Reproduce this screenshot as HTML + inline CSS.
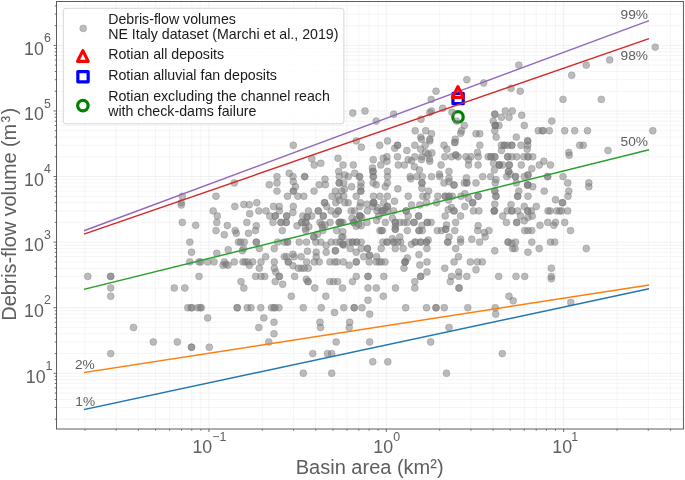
<!DOCTYPE html>
<html><head><meta charset="utf-8"><title>Debris-flow volume vs basin area</title>
<style>html,body{margin:0;padding:0;background:#fff}svg{display:block}text{font-family:"Liberation Sans", Arial, sans-serif}</style></head><body>
<svg width="685" height="480" viewBox="0 0 685 480">
<rect width="685" height="480" fill="#fff"/>
<g stroke-width="0.75"><line x1="84.99" y1="1.50" x2="84.99" y2="429.00" stroke="#f2f2f2"/><line x1="116.22" y1="1.50" x2="116.22" y2="429.00" stroke="#f2f2f2"/><line x1="138.38" y1="1.50" x2="138.38" y2="429.00" stroke="#f2f2f2"/><line x1="155.56" y1="1.50" x2="155.56" y2="429.00" stroke="#f2f2f2"/><line x1="169.61" y1="1.50" x2="169.61" y2="429.00" stroke="#f2f2f2"/><line x1="181.48" y1="1.50" x2="181.48" y2="429.00" stroke="#f2f2f2"/><line x1="191.76" y1="1.50" x2="191.76" y2="429.00" stroke="#f2f2f2"/><line x1="200.83" y1="1.50" x2="200.83" y2="429.00" stroke="#f2f2f2"/><line x1="208.95" y1="1.50" x2="208.95" y2="429.00" stroke="#ebebeb"/><line x1="262.34" y1="1.50" x2="262.34" y2="429.00" stroke="#f2f2f2"/><line x1="293.57" y1="1.50" x2="293.57" y2="429.00" stroke="#f2f2f2"/><line x1="315.73" y1="1.50" x2="315.73" y2="429.00" stroke="#f2f2f2"/><line x1="332.91" y1="1.50" x2="332.91" y2="429.00" stroke="#f2f2f2"/><line x1="346.96" y1="1.50" x2="346.96" y2="429.00" stroke="#f2f2f2"/><line x1="358.83" y1="1.50" x2="358.83" y2="429.00" stroke="#f2f2f2"/><line x1="369.11" y1="1.50" x2="369.11" y2="429.00" stroke="#f2f2f2"/><line x1="378.18" y1="1.50" x2="378.18" y2="429.00" stroke="#f2f2f2"/><line x1="386.30" y1="1.50" x2="386.30" y2="429.00" stroke="#ebebeb"/><line x1="439.69" y1="1.50" x2="439.69" y2="429.00" stroke="#f2f2f2"/><line x1="470.92" y1="1.50" x2="470.92" y2="429.00" stroke="#f2f2f2"/><line x1="493.08" y1="1.50" x2="493.08" y2="429.00" stroke="#f2f2f2"/><line x1="510.26" y1="1.50" x2="510.26" y2="429.00" stroke="#f2f2f2"/><line x1="524.31" y1="1.50" x2="524.31" y2="429.00" stroke="#f2f2f2"/><line x1="536.18" y1="1.50" x2="536.18" y2="429.00" stroke="#f2f2f2"/><line x1="546.46" y1="1.50" x2="546.46" y2="429.00" stroke="#f2f2f2"/><line x1="555.53" y1="1.50" x2="555.53" y2="429.00" stroke="#f2f2f2"/><line x1="563.65" y1="1.50" x2="563.65" y2="429.00" stroke="#ebebeb"/><line x1="617.04" y1="1.50" x2="617.04" y2="429.00" stroke="#f2f2f2"/><line x1="648.27" y1="1.50" x2="648.27" y2="429.00" stroke="#f2f2f2"/><line x1="670.43" y1="1.50" x2="670.43" y2="429.00" stroke="#f2f2f2"/><line x1="56.50" y1="419.14" x2="683.45" y2="419.14" stroke="#f2f2f2"/><line x1="56.50" y1="407.59" x2="683.45" y2="407.59" stroke="#f2f2f2"/><line x1="56.50" y1="399.40" x2="683.45" y2="399.40" stroke="#f2f2f2"/><line x1="56.50" y1="393.04" x2="683.45" y2="393.04" stroke="#f2f2f2"/><line x1="56.50" y1="387.85" x2="683.45" y2="387.85" stroke="#f2f2f2"/><line x1="56.50" y1="383.46" x2="683.45" y2="383.46" stroke="#f2f2f2"/><line x1="56.50" y1="379.66" x2="683.45" y2="379.66" stroke="#f2f2f2"/><line x1="56.50" y1="376.30" x2="683.45" y2="376.30" stroke="#f2f2f2"/><line x1="56.50" y1="373.30" x2="683.45" y2="373.30" stroke="#ebebeb"/><line x1="56.50" y1="353.56" x2="683.45" y2="353.56" stroke="#f2f2f2"/><line x1="56.50" y1="342.01" x2="683.45" y2="342.01" stroke="#f2f2f2"/><line x1="56.50" y1="333.82" x2="683.45" y2="333.82" stroke="#f2f2f2"/><line x1="56.50" y1="327.46" x2="683.45" y2="327.46" stroke="#f2f2f2"/><line x1="56.50" y1="322.27" x2="683.45" y2="322.27" stroke="#f2f2f2"/><line x1="56.50" y1="317.88" x2="683.45" y2="317.88" stroke="#f2f2f2"/><line x1="56.50" y1="314.08" x2="683.45" y2="314.08" stroke="#f2f2f2"/><line x1="56.50" y1="310.72" x2="683.45" y2="310.72" stroke="#f2f2f2"/><line x1="56.50" y1="307.72" x2="683.45" y2="307.72" stroke="#ebebeb"/><line x1="56.50" y1="287.98" x2="683.45" y2="287.98" stroke="#f2f2f2"/><line x1="56.50" y1="276.43" x2="683.45" y2="276.43" stroke="#f2f2f2"/><line x1="56.50" y1="268.24" x2="683.45" y2="268.24" stroke="#f2f2f2"/><line x1="56.50" y1="261.88" x2="683.45" y2="261.88" stroke="#f2f2f2"/><line x1="56.50" y1="256.69" x2="683.45" y2="256.69" stroke="#f2f2f2"/><line x1="56.50" y1="252.30" x2="683.45" y2="252.30" stroke="#f2f2f2"/><line x1="56.50" y1="248.50" x2="683.45" y2="248.50" stroke="#f2f2f2"/><line x1="56.50" y1="245.14" x2="683.45" y2="245.14" stroke="#f2f2f2"/><line x1="56.50" y1="242.14" x2="683.45" y2="242.14" stroke="#ebebeb"/><line x1="56.50" y1="222.40" x2="683.45" y2="222.40" stroke="#f2f2f2"/><line x1="56.50" y1="210.85" x2="683.45" y2="210.85" stroke="#f2f2f2"/><line x1="56.50" y1="202.66" x2="683.45" y2="202.66" stroke="#f2f2f2"/><line x1="56.50" y1="196.30" x2="683.45" y2="196.30" stroke="#f2f2f2"/><line x1="56.50" y1="191.11" x2="683.45" y2="191.11" stroke="#f2f2f2"/><line x1="56.50" y1="186.72" x2="683.45" y2="186.72" stroke="#f2f2f2"/><line x1="56.50" y1="182.92" x2="683.45" y2="182.92" stroke="#f2f2f2"/><line x1="56.50" y1="179.56" x2="683.45" y2="179.56" stroke="#f2f2f2"/><line x1="56.50" y1="176.56" x2="683.45" y2="176.56" stroke="#ebebeb"/><line x1="56.50" y1="156.82" x2="683.45" y2="156.82" stroke="#f2f2f2"/><line x1="56.50" y1="145.27" x2="683.45" y2="145.27" stroke="#f2f2f2"/><line x1="56.50" y1="137.08" x2="683.45" y2="137.08" stroke="#f2f2f2"/><line x1="56.50" y1="130.72" x2="683.45" y2="130.72" stroke="#f2f2f2"/><line x1="56.50" y1="125.53" x2="683.45" y2="125.53" stroke="#f2f2f2"/><line x1="56.50" y1="121.14" x2="683.45" y2="121.14" stroke="#f2f2f2"/><line x1="56.50" y1="117.34" x2="683.45" y2="117.34" stroke="#f2f2f2"/><line x1="56.50" y1="113.98" x2="683.45" y2="113.98" stroke="#f2f2f2"/><line x1="56.50" y1="110.98" x2="683.45" y2="110.98" stroke="#ebebeb"/><line x1="56.50" y1="91.24" x2="683.45" y2="91.24" stroke="#f2f2f2"/><line x1="56.50" y1="79.69" x2="683.45" y2="79.69" stroke="#f2f2f2"/><line x1="56.50" y1="71.50" x2="683.45" y2="71.50" stroke="#f2f2f2"/><line x1="56.50" y1="65.14" x2="683.45" y2="65.14" stroke="#f2f2f2"/><line x1="56.50" y1="59.95" x2="683.45" y2="59.95" stroke="#f2f2f2"/><line x1="56.50" y1="55.56" x2="683.45" y2="55.56" stroke="#f2f2f2"/><line x1="56.50" y1="51.76" x2="683.45" y2="51.76" stroke="#f2f2f2"/><line x1="56.50" y1="48.40" x2="683.45" y2="48.40" stroke="#f2f2f2"/><line x1="56.50" y1="45.40" x2="683.45" y2="45.40" stroke="#ebebeb"/><line x1="56.50" y1="25.66" x2="683.45" y2="25.66" stroke="#f2f2f2"/><line x1="56.50" y1="14.11" x2="683.45" y2="14.11" stroke="#f2f2f2"/><line x1="56.50" y1="5.92" x2="683.45" y2="5.92" stroke="#f2f2f2"/></g>
<circle cx="458.00" cy="116.90" r="5.25" fill="none" stroke="#008000" stroke-width="3.2"/>
<rect x="452.95" y="93.35" width="10.30" height="10.30" fill="none" stroke="#0000ff" stroke-width="3.2" stroke-linejoin="round"/>
<g fill="#7a7a7a" fill-opacity="0.5" stroke="#7a7a7a" stroke-opacity="0.5" stroke-width="0.7"><circle cx="87.8" cy="276.4" r="3.45"/><circle cx="110.7" cy="276.4" r="3.45"/><circle cx="110.7" cy="276.4" r="3.45"/><circle cx="110.7" cy="288.0" r="3.45"/><circle cx="110.7" cy="296.2" r="3.45"/><circle cx="133.5" cy="327.5" r="3.45"/><circle cx="153.3" cy="342.0" r="3.45"/><circle cx="110.7" cy="353.6" r="3.45"/><circle cx="182.3" cy="196.3" r="3.45"/><circle cx="216.0" cy="196.3" r="3.45"/><circle cx="234.3" cy="182.9" r="3.45"/><circle cx="269.3" cy="184.7" r="3.45"/><circle cx="277.0" cy="176.6" r="3.45"/><circle cx="277.0" cy="182.9" r="3.45"/><circle cx="277.0" cy="191.1" r="3.45"/><circle cx="181.3" cy="202.7" r="3.45"/><circle cx="181.3" cy="205.0" r="3.45"/><circle cx="182.3" cy="222.4" r="3.45"/><circle cx="195.7" cy="225.3" r="3.45"/><circle cx="189.8" cy="242.1" r="3.45"/><circle cx="191.5" cy="252.3" r="3.45"/><circle cx="189.8" cy="261.9" r="3.45"/><circle cx="199.0" cy="261.9" r="3.45"/><circle cx="200.7" cy="261.9" r="3.45"/><circle cx="207.7" cy="261.9" r="3.45"/><circle cx="214.0" cy="261.9" r="3.45"/><circle cx="199.0" cy="276.4" r="3.45"/><circle cx="213.2" cy="210.9" r="3.45"/><circle cx="217.3" cy="216.0" r="3.45"/><circle cx="216.8" cy="222.4" r="3.45"/><circle cx="216.0" cy="230.6" r="3.45"/><circle cx="224.3" cy="234.7" r="3.45"/><circle cx="227.3" cy="225.5" r="3.45"/><circle cx="234.8" cy="206.5" r="3.45"/><circle cx="235.2" cy="230.6" r="3.45"/><circle cx="236.3" cy="233.3" r="3.45"/><circle cx="228.2" cy="249.7" r="3.45"/><circle cx="216.8" cy="253.3" r="3.45"/><circle cx="224.3" cy="261.9" r="3.45"/><circle cx="223.0" cy="265.3" r="3.45"/><circle cx="225.7" cy="264.2" r="3.45"/><circle cx="228.0" cy="265.3" r="3.45"/><circle cx="234.3" cy="261.9" r="3.45"/><circle cx="243.8" cy="204.5" r="3.45"/><circle cx="249.3" cy="204.7" r="3.45"/><circle cx="256.8" cy="202.7" r="3.45"/><circle cx="249.7" cy="213.7" r="3.45"/><circle cx="246.8" cy="222.4" r="3.45"/><circle cx="248.5" cy="233.3" r="3.45"/><circle cx="238.5" cy="242.1" r="3.45"/><circle cx="240.7" cy="242.1" r="3.45"/><circle cx="244.3" cy="242.1" r="3.45"/><circle cx="243.5" cy="248.5" r="3.45"/><circle cx="242.3" cy="250.8" r="3.45"/><circle cx="243.0" cy="261.9" r="3.45"/><circle cx="245.2" cy="261.9" r="3.45"/><circle cx="247.7" cy="261.9" r="3.45"/><circle cx="252.7" cy="261.9" r="3.45"/><circle cx="249.3" cy="265.3" r="3.45"/><circle cx="256.3" cy="225.8" r="3.45"/><circle cx="255.5" cy="230.6" r="3.45"/><circle cx="256.3" cy="242.1" r="3.45"/><circle cx="256.3" cy="242.1" r="3.45"/><circle cx="259.3" cy="248.5" r="3.45"/><circle cx="258.8" cy="210.9" r="3.45"/><circle cx="266.0" cy="210.9" r="3.45"/><circle cx="269.7" cy="216.0" r="3.45"/><circle cx="273.5" cy="206.5" r="3.45"/><circle cx="279.3" cy="206.5" r="3.45"/><circle cx="275.2" cy="216.0" r="3.45"/><circle cx="275.2" cy="216.0" r="3.45"/><circle cx="279.3" cy="210.9" r="3.45"/><circle cx="273.0" cy="222.4" r="3.45"/><circle cx="281.0" cy="222.4" r="3.45"/><circle cx="281.0" cy="222.4" r="3.45"/><circle cx="282.3" cy="230.6" r="3.45"/><circle cx="277.7" cy="242.1" r="3.45"/><circle cx="274.3" cy="248.5" r="3.45"/><circle cx="265.7" cy="256.7" r="3.45"/><circle cx="261.0" cy="261.9" r="3.45"/><circle cx="274.3" cy="261.9" r="3.45"/><circle cx="259.3" cy="268.2" r="3.45"/><circle cx="274.3" cy="268.2" r="3.45"/><circle cx="275.7" cy="272.0" r="3.45"/><circle cx="279.3" cy="276.4" r="3.45"/><circle cx="279.3" cy="276.4" r="3.45"/><circle cx="255.7" cy="276.4" r="3.45"/><circle cx="261.0" cy="276.4" r="3.45"/><circle cx="264.7" cy="276.4" r="3.45"/><circle cx="284.3" cy="256.7" r="3.45"/><circle cx="284.3" cy="242.1" r="3.45"/><circle cx="174.3" cy="288.0" r="3.45"/><circle cx="184.8" cy="288.0" r="3.45"/><circle cx="241.0" cy="281.6" r="3.45"/><circle cx="243.8" cy="288.0" r="3.45"/><circle cx="275.2" cy="281.6" r="3.45"/><circle cx="282.7" cy="284.2" r="3.45"/><circle cx="187.7" cy="307.7" r="3.45"/><circle cx="191.0" cy="307.7" r="3.45"/><circle cx="192.0" cy="307.7" r="3.45"/><circle cx="197.7" cy="307.7" r="3.45"/><circle cx="200.2" cy="307.7" r="3.45"/><circle cx="201.3" cy="307.7" r="3.45"/><circle cx="237.2" cy="307.7" r="3.45"/><circle cx="237.2" cy="307.7" r="3.45"/><circle cx="247.3" cy="307.7" r="3.45"/><circle cx="251.0" cy="307.7" r="3.45"/><circle cx="260.7" cy="307.7" r="3.45"/><circle cx="271.5" cy="307.7" r="3.45"/><circle cx="274.0" cy="307.7" r="3.45"/><circle cx="275.0" cy="307.7" r="3.45"/><circle cx="279.0" cy="307.7" r="3.45"/><circle cx="207.7" cy="317.9" r="3.45"/><circle cx="263.8" cy="317.9" r="3.45"/><circle cx="274.0" cy="322.3" r="3.45"/><circle cx="258.8" cy="327.5" r="3.45"/><circle cx="274.0" cy="333.8" r="3.45"/><circle cx="177.3" cy="342.0" r="3.45"/><circle cx="268.8" cy="342.0" r="3.45"/><circle cx="191.5" cy="347.2" r="3.45"/><circle cx="191.5" cy="347.2" r="3.45"/><circle cx="209.3" cy="347.2" r="3.45"/><circle cx="352.8" cy="113.0" r="3.45"/><circle cx="365.0" cy="111.0" r="3.45"/><circle cx="393.7" cy="114.2" r="3.45"/><circle cx="376.2" cy="121.1" r="3.45"/><circle cx="293.3" cy="145.3" r="3.45"/><circle cx="356.3" cy="140.9" r="3.45"/><circle cx="361.3" cy="147.2" r="3.45"/><circle cx="379.7" cy="145.3" r="3.45"/><circle cx="387.5" cy="140.9" r="3.45"/><circle cx="394.7" cy="148.3" r="3.45"/><circle cx="397.5" cy="145.3" r="3.45"/><circle cx="397.5" cy="145.3" r="3.45"/><circle cx="311.7" cy="158.7" r="3.45"/><circle cx="314.2" cy="165.0" r="3.45"/><circle cx="320.8" cy="163.3" r="3.45"/><circle cx="338.0" cy="158.3" r="3.45"/><circle cx="343.0" cy="165.0" r="3.45"/><circle cx="353.3" cy="165.0" r="3.45"/><circle cx="373.3" cy="159.7" r="3.45"/><circle cx="383.3" cy="158.3" r="3.45"/><circle cx="387.0" cy="156.8" r="3.45"/><circle cx="387.0" cy="161.3" r="3.45"/><circle cx="380.8" cy="165.0" r="3.45"/><circle cx="397.5" cy="156.8" r="3.45"/><circle cx="398.3" cy="165.0" r="3.45"/><circle cx="372.5" cy="168.0" r="3.45"/><circle cx="373.0" cy="171.4" r="3.45"/><circle cx="373.0" cy="171.4" r="3.45"/><circle cx="373.3" cy="176.6" r="3.45"/><circle cx="373.3" cy="176.6" r="3.45"/><circle cx="387.5" cy="171.4" r="3.45"/><circle cx="387.5" cy="176.6" r="3.45"/><circle cx="338.7" cy="171.4" r="3.45"/><circle cx="339.2" cy="176.6" r="3.45"/><circle cx="344.7" cy="175.0" r="3.45"/><circle cx="348.3" cy="176.6" r="3.45"/><circle cx="354.7" cy="173.3" r="3.45"/><circle cx="359.5" cy="176.6" r="3.45"/><circle cx="359.5" cy="176.6" r="3.45"/><circle cx="289.2" cy="173.3" r="3.45"/><circle cx="293.0" cy="176.6" r="3.45"/><circle cx="304.7" cy="176.6" r="3.45"/><circle cx="304.7" cy="176.6" r="3.45"/><circle cx="325.0" cy="179.2" r="3.45"/><circle cx="293.3" cy="181.7" r="3.45"/><circle cx="295.4" cy="186.7" r="3.45"/><circle cx="293.3" cy="191.1" r="3.45"/><circle cx="293.3" cy="191.1" r="3.45"/><circle cx="287.5" cy="196.3" r="3.45"/><circle cx="297.9" cy="196.3" r="3.45"/><circle cx="303.8" cy="196.3" r="3.45"/><circle cx="314.0" cy="191.1" r="3.45"/><circle cx="319.2" cy="184.8" r="3.45"/><circle cx="325.4" cy="184.8" r="3.45"/><circle cx="293.3" cy="206.5" r="3.45"/><circle cx="292.9" cy="212.5" r="3.45"/><circle cx="286.7" cy="216.0" r="3.45"/><circle cx="286.7" cy="216.0" r="3.45"/><circle cx="308.5" cy="210.9" r="3.45"/><circle cx="302.9" cy="216.0" r="3.45"/><circle cx="307.1" cy="217.1" r="3.45"/><circle cx="307.1" cy="217.1" r="3.45"/><circle cx="311.7" cy="216.0" r="3.45"/><circle cx="318.3" cy="210.9" r="3.45"/><circle cx="318.3" cy="210.9" r="3.45"/><circle cx="323.3" cy="216.0" r="3.45"/><circle cx="323.3" cy="216.0" r="3.45"/><circle cx="324.6" cy="202.7" r="3.45"/><circle cx="324.6" cy="202.7" r="3.45"/><circle cx="326.7" cy="206.5" r="3.45"/><circle cx="331.2" cy="210.9" r="3.45"/><circle cx="332.1" cy="196.3" r="3.45"/><circle cx="335.4" cy="191.1" r="3.45"/><circle cx="335.8" cy="202.7" r="3.45"/><circle cx="339.2" cy="182.9" r="3.45"/><circle cx="339.2" cy="182.9" r="3.45"/><circle cx="338.3" cy="196.3" r="3.45"/><circle cx="338.3" cy="210.9" r="3.45"/><circle cx="338.3" cy="210.9" r="3.45"/><circle cx="335.8" cy="214.2" r="3.45"/><circle cx="341.7" cy="191.1" r="3.45"/><circle cx="339.2" cy="200.0" r="3.45"/><circle cx="343.7" cy="182.9" r="3.45"/><circle cx="351.6" cy="186.7" r="3.45"/><circle cx="361.0" cy="182.9" r="3.45"/><circle cx="360.8" cy="191.1" r="3.45"/><circle cx="360.8" cy="191.1" r="3.45"/><circle cx="360.8" cy="186.7" r="3.45"/><circle cx="373.2" cy="182.9" r="3.45"/><circle cx="376.2" cy="184.8" r="3.45"/><circle cx="387.4" cy="182.9" r="3.45"/><circle cx="385.3" cy="186.7" r="3.45"/><circle cx="397.8" cy="188.8" r="3.45"/><circle cx="344.5" cy="189.2" r="3.45"/><circle cx="343.7" cy="196.3" r="3.45"/><circle cx="356.2" cy="196.3" r="3.45"/><circle cx="373.5" cy="196.3" r="3.45"/><circle cx="379.9" cy="196.3" r="3.45"/><circle cx="387.4" cy="196.3" r="3.45"/><circle cx="348.2" cy="202.7" r="3.45"/><circle cx="344.9" cy="202.7" r="3.45"/><circle cx="360.5" cy="202.7" r="3.45"/><circle cx="359.9" cy="206.5" r="3.45"/><circle cx="367.0" cy="204.2" r="3.45"/><circle cx="373.7" cy="202.7" r="3.45"/><circle cx="373.7" cy="202.7" r="3.45"/><circle cx="372.8" cy="206.5" r="3.45"/><circle cx="383.7" cy="202.7" r="3.45"/><circle cx="387.4" cy="206.5" r="3.45"/><circle cx="387.4" cy="206.5" r="3.45"/><circle cx="394.5" cy="201.2" r="3.45"/><circle cx="393.7" cy="210.9" r="3.45"/><circle cx="351.2" cy="210.9" r="3.45"/><circle cx="354.5" cy="210.9" r="3.45"/><circle cx="367.4" cy="210.9" r="3.45"/><circle cx="359.9" cy="216.0" r="3.45"/><circle cx="359.9" cy="216.0" r="3.45"/><circle cx="359.9" cy="216.0" r="3.45"/><circle cx="352.0" cy="218.3" r="3.45"/><circle cx="377.0" cy="210.9" r="3.45"/><circle cx="382.0" cy="210.9" r="3.45"/><circle cx="382.0" cy="210.9" r="3.45"/><circle cx="387.4" cy="210.9" r="3.45"/><circle cx="378.7" cy="216.0" r="3.45"/><circle cx="392.4" cy="218.3" r="3.45"/><circle cx="286.2" cy="222.4" r="3.45"/><circle cx="286.2" cy="222.4" r="3.45"/><circle cx="297.1" cy="225.8" r="3.45"/><circle cx="301.7" cy="222.4" r="3.45"/><circle cx="301.7" cy="222.4" r="3.45"/><circle cx="305.8" cy="222.4" r="3.45"/><circle cx="305.8" cy="222.4" r="3.45"/><circle cx="308.8" cy="226.7" r="3.45"/><circle cx="305.4" cy="228.3" r="3.45"/><circle cx="305.8" cy="230.6" r="3.45"/><circle cx="320.0" cy="222.4" r="3.45"/><circle cx="325.0" cy="225.0" r="3.45"/><circle cx="322.5" cy="227.5" r="3.45"/><circle cx="321.7" cy="224.6" r="3.45"/><circle cx="330.0" cy="222.4" r="3.45"/><circle cx="322.9" cy="230.6" r="3.45"/><circle cx="317.5" cy="234.2" r="3.45"/><circle cx="313.8" cy="236.9" r="3.45"/><circle cx="313.8" cy="236.9" r="3.45"/><circle cx="336.7" cy="230.6" r="3.45"/><circle cx="339.2" cy="222.4" r="3.45"/><circle cx="339.2" cy="222.4" r="3.45"/><circle cx="341.7" cy="236.9" r="3.45"/><circle cx="287.5" cy="242.1" r="3.45"/><circle cx="287.5" cy="242.1" r="3.45"/><circle cx="299.2" cy="242.1" r="3.45"/><circle cx="306.5" cy="242.1" r="3.45"/><circle cx="315.8" cy="242.1" r="3.45"/><circle cx="320.8" cy="242.1" r="3.45"/><circle cx="331.2" cy="242.1" r="3.45"/><circle cx="336.2" cy="242.1" r="3.45"/><circle cx="340.0" cy="242.1" r="3.45"/><circle cx="326.2" cy="245.4" r="3.45"/><circle cx="307.5" cy="251.2" r="3.45"/><circle cx="316.2" cy="252.3" r="3.45"/><circle cx="326.2" cy="252.3" r="3.45"/><circle cx="335.4" cy="250.8" r="3.45"/><circle cx="335.4" cy="250.8" r="3.45"/><circle cx="292.9" cy="254.2" r="3.45"/><circle cx="294.2" cy="256.7" r="3.45"/><circle cx="286.7" cy="256.7" r="3.45"/><circle cx="301.2" cy="256.7" r="3.45"/><circle cx="316.2" cy="256.7" r="3.45"/><circle cx="342.8" cy="222.4" r="3.45"/><circle cx="353.7" cy="222.4" r="3.45"/><circle cx="353.7" cy="222.4" r="3.45"/><circle cx="358.7" cy="224.2" r="3.45"/><circle cx="356.2" cy="226.2" r="3.45"/><circle cx="361.2" cy="225.8" r="3.45"/><circle cx="367.0" cy="222.4" r="3.45"/><circle cx="376.6" cy="220.4" r="3.45"/><circle cx="385.3" cy="222.4" r="3.45"/><circle cx="395.3" cy="222.4" r="3.45"/><circle cx="395.3" cy="222.4" r="3.45"/><circle cx="342.8" cy="231.7" r="3.45"/><circle cx="342.8" cy="236.9" r="3.45"/><circle cx="342.8" cy="244.2" r="3.45"/><circle cx="342.8" cy="244.2" r="3.45"/><circle cx="382.0" cy="230.6" r="3.45"/><circle cx="382.0" cy="230.6" r="3.45"/><circle cx="379.9" cy="230.6" r="3.45"/><circle cx="395.3" cy="229.2" r="3.45"/><circle cx="395.3" cy="229.2" r="3.45"/><circle cx="395.3" cy="226.2" r="3.45"/><circle cx="392.4" cy="238.8" r="3.45"/><circle cx="348.7" cy="242.1" r="3.45"/><circle cx="352.4" cy="242.1" r="3.45"/><circle cx="352.4" cy="242.1" r="3.45"/><circle cx="356.6" cy="242.1" r="3.45"/><circle cx="356.6" cy="242.1" r="3.45"/><circle cx="361.2" cy="242.1" r="3.45"/><circle cx="382.8" cy="242.1" r="3.45"/><circle cx="387.0" cy="242.1" r="3.45"/><circle cx="387.0" cy="242.1" r="3.45"/><circle cx="393.7" cy="242.1" r="3.45"/><circle cx="393.7" cy="242.1" r="3.45"/><circle cx="397.8" cy="242.1" r="3.45"/><circle cx="343.7" cy="245.0" r="3.45"/><circle cx="350.3" cy="248.5" r="3.45"/><circle cx="361.2" cy="248.5" r="3.45"/><circle cx="367.4" cy="248.5" r="3.45"/><circle cx="367.4" cy="248.5" r="3.45"/><circle cx="381.2" cy="248.5" r="3.45"/><circle cx="395.3" cy="248.5" r="3.45"/><circle cx="356.2" cy="252.3" r="3.45"/><circle cx="363.7" cy="256.7" r="3.45"/><circle cx="369.5" cy="255.4" r="3.45"/><circle cx="369.5" cy="255.4" r="3.45"/><circle cx="376.6" cy="256.7" r="3.45"/><circle cx="288.3" cy="261.9" r="3.45"/><circle cx="288.3" cy="261.9" r="3.45"/><circle cx="293.0" cy="265.8" r="3.45"/><circle cx="306.7" cy="261.9" r="3.45"/><circle cx="314.2" cy="261.9" r="3.45"/><circle cx="319.2" cy="261.9" r="3.45"/><circle cx="330.0" cy="261.9" r="3.45"/><circle cx="334.7" cy="261.9" r="3.45"/><circle cx="337.0" cy="261.9" r="3.45"/><circle cx="343.3" cy="261.9" r="3.45"/><circle cx="349.2" cy="265.3" r="3.45"/><circle cx="356.3" cy="261.9" r="3.45"/><circle cx="356.3" cy="261.9" r="3.45"/><circle cx="369.2" cy="261.9" r="3.45"/><circle cx="376.3" cy="261.9" r="3.45"/><circle cx="379.2" cy="261.9" r="3.45"/><circle cx="381.3" cy="261.9" r="3.45"/><circle cx="385.0" cy="261.9" r="3.45"/><circle cx="298.3" cy="268.2" r="3.45"/><circle cx="301.3" cy="268.2" r="3.45"/><circle cx="304.2" cy="268.2" r="3.45"/><circle cx="308.3" cy="268.2" r="3.45"/><circle cx="294.7" cy="276.4" r="3.45"/><circle cx="306.3" cy="279.2" r="3.45"/><circle cx="308.0" cy="281.6" r="3.45"/><circle cx="308.0" cy="281.6" r="3.45"/><circle cx="329.7" cy="281.6" r="3.45"/><circle cx="333.5" cy="281.6" r="3.45"/><circle cx="337.7" cy="281.6" r="3.45"/><circle cx="352.5" cy="281.6" r="3.45"/><circle cx="356.3" cy="276.4" r="3.45"/><circle cx="368.0" cy="276.4" r="3.45"/><circle cx="368.0" cy="276.4" r="3.45"/><circle cx="383.8" cy="276.4" r="3.45"/><circle cx="314.7" cy="288.0" r="3.45"/><circle cx="342.5" cy="288.0" r="3.45"/><circle cx="368.0" cy="288.0" r="3.45"/><circle cx="376.3" cy="288.0" r="3.45"/><circle cx="395.5" cy="288.0" r="3.45"/><circle cx="291.3" cy="296.2" r="3.45"/><circle cx="325.8" cy="296.2" r="3.45"/><circle cx="383.3" cy="296.2" r="3.45"/><circle cx="368.0" cy="300.3" r="3.45"/><circle cx="303.3" cy="307.7" r="3.45"/><circle cx="321.3" cy="307.7" r="3.45"/><circle cx="343.8" cy="307.7" r="3.45"/><circle cx="354.2" cy="307.7" r="3.45"/><circle cx="354.2" cy="307.7" r="3.45"/><circle cx="362.0" cy="307.7" r="3.45"/><circle cx="334.5" cy="312.5" r="3.45"/><circle cx="369.7" cy="314.1" r="3.45"/><circle cx="320.0" cy="322.3" r="3.45"/><circle cx="320.5" cy="327.5" r="3.45"/><circle cx="349.7" cy="322.3" r="3.45"/><circle cx="349.2" cy="327.5" r="3.45"/><circle cx="336.2" cy="342.0" r="3.45"/><circle cx="369.7" cy="342.0" r="3.45"/><circle cx="312.8" cy="353.6" r="3.45"/><circle cx="327.5" cy="353.6" r="3.45"/><circle cx="331.7" cy="353.6" r="3.45"/><circle cx="372.8" cy="361.8" r="3.45"/><circle cx="387.8" cy="361.8" r="3.45"/><circle cx="303.3" cy="373.3" r="3.45"/><circle cx="331.7" cy="373.3" r="3.45"/><circle cx="466.8" cy="79.7" r="3.45"/><circle cx="483.7" cy="83.0" r="3.45"/><circle cx="436.0" cy="91.2" r="3.45"/><circle cx="431.2" cy="99.4" r="3.45"/><circle cx="442.7" cy="108.3" r="3.45"/><circle cx="431.5" cy="111.0" r="3.45"/><circle cx="429.8" cy="112.5" r="3.45"/><circle cx="421.0" cy="119.2" r="3.45"/><circle cx="452.0" cy="112.2" r="3.45"/><circle cx="456.5" cy="121.1" r="3.45"/><circle cx="464.3" cy="125.5" r="3.45"/><circle cx="461.5" cy="130.7" r="3.45"/><circle cx="460.7" cy="133.3" r="3.45"/><circle cx="415.2" cy="130.7" r="3.45"/><circle cx="425.7" cy="130.7" r="3.45"/><circle cx="431.5" cy="133.8" r="3.45"/><circle cx="420.7" cy="137.1" r="3.45"/><circle cx="421.5" cy="139.2" r="3.45"/><circle cx="429.8" cy="139.2" r="3.45"/><circle cx="455.3" cy="139.2" r="3.45"/><circle cx="476.0" cy="133.8" r="3.45"/><circle cx="479.8" cy="133.8" r="3.45"/><circle cx="511.0" cy="88.3" r="3.45"/><circle cx="494.8" cy="114.2" r="3.45"/><circle cx="494.8" cy="114.2" r="3.45"/><circle cx="505.3" cy="111.0" r="3.45"/><circle cx="501.5" cy="117.3" r="3.45"/><circle cx="509.0" cy="117.3" r="3.45"/><circle cx="493.2" cy="121.1" r="3.45"/><circle cx="495.3" cy="125.5" r="3.45"/><circle cx="495.3" cy="125.5" r="3.45"/><circle cx="495.3" cy="125.5" r="3.45"/><circle cx="499.0" cy="125.5" r="3.45"/><circle cx="494.8" cy="130.7" r="3.45"/><circle cx="496.2" cy="137.1" r="3.45"/><circle cx="512.3" cy="111.0" r="3.45"/><circle cx="414.8" cy="145.3" r="3.45"/><circle cx="406.9" cy="150.5" r="3.45"/><circle cx="429.8" cy="140.9" r="3.45"/><circle cx="425.2" cy="145.3" r="3.45"/><circle cx="420.7" cy="149.2" r="3.45"/><circle cx="425.7" cy="152.5" r="3.45"/><circle cx="431.9" cy="152.9" r="3.45"/><circle cx="428.2" cy="154.2" r="3.45"/><circle cx="414.8" cy="156.8" r="3.45"/><circle cx="421.9" cy="156.8" r="3.45"/><circle cx="408.2" cy="159.6" r="3.45"/><circle cx="411.5" cy="160.8" r="3.45"/><circle cx="421.5" cy="159.6" r="3.45"/><circle cx="429.8" cy="161.2" r="3.45"/><circle cx="429.4" cy="158.8" r="3.45"/><circle cx="404.4" cy="165.0" r="3.45"/><circle cx="414.4" cy="166.7" r="3.45"/><circle cx="419.4" cy="170.0" r="3.45"/><circle cx="441.1" cy="165.0" r="3.45"/><circle cx="444.0" cy="145.3" r="3.45"/><circle cx="446.9" cy="149.2" r="3.45"/><circle cx="444.8" cy="156.8" r="3.45"/><circle cx="451.5" cy="156.8" r="3.45"/><circle cx="455.7" cy="155.0" r="3.45"/><circle cx="455.7" cy="155.0" r="3.45"/><circle cx="454.8" cy="142.5" r="3.45"/><circle cx="454.8" cy="142.5" r="3.45"/><circle cx="449.0" cy="171.4" r="3.45"/><circle cx="439.4" cy="174.2" r="3.45"/><circle cx="439.8" cy="176.6" r="3.45"/><circle cx="431.5" cy="176.6" r="3.45"/><circle cx="410.2" cy="176.6" r="3.45"/><circle cx="410.7" cy="178.8" r="3.45"/><circle cx="416.9" cy="176.6" r="3.45"/><circle cx="422.3" cy="176.6" r="3.45"/><circle cx="449.0" cy="178.3" r="3.45"/><circle cx="458.1" cy="156.8" r="3.45"/><circle cx="479.8" cy="145.3" r="3.45"/><circle cx="477.5" cy="152.5" r="3.45"/><circle cx="478.3" cy="156.8" r="3.45"/><circle cx="478.1" cy="165.0" r="3.45"/><circle cx="466.0" cy="156.8" r="3.45"/><circle cx="471.0" cy="156.8" r="3.45"/><circle cx="468.5" cy="160.0" r="3.45"/><circle cx="468.5" cy="165.0" r="3.45"/><circle cx="488.1" cy="156.8" r="3.45"/><circle cx="491.0" cy="156.8" r="3.45"/><circle cx="491.0" cy="156.8" r="3.45"/><circle cx="494.8" cy="156.8" r="3.45"/><circle cx="494.8" cy="156.8" r="3.45"/><circle cx="493.5" cy="163.3" r="3.45"/><circle cx="499.3" cy="165.0" r="3.45"/><circle cx="499.3" cy="165.0" r="3.45"/><circle cx="499.3" cy="165.0" r="3.45"/><circle cx="502.7" cy="165.0" r="3.45"/><circle cx="494.3" cy="170.0" r="3.45"/><circle cx="501.4" cy="145.3" r="3.45"/><circle cx="504.3" cy="145.3" r="3.45"/><circle cx="504.3" cy="145.3" r="3.45"/><circle cx="507.7" cy="145.3" r="3.45"/><circle cx="511.8" cy="145.3" r="3.45"/><circle cx="511.8" cy="145.3" r="3.45"/><circle cx="501.4" cy="150.5" r="3.45"/><circle cx="507.7" cy="156.8" r="3.45"/><circle cx="507.7" cy="156.8" r="3.45"/><circle cx="511.8" cy="156.8" r="3.45"/><circle cx="509.3" cy="165.0" r="3.45"/><circle cx="509.3" cy="165.0" r="3.45"/><circle cx="508.5" cy="171.4" r="3.45"/><circle cx="508.5" cy="171.4" r="3.45"/><circle cx="510.2" cy="174.2" r="3.45"/><circle cx="506.8" cy="176.6" r="3.45"/><circle cx="482.7" cy="176.6" r="3.45"/><circle cx="490.6" cy="176.6" r="3.45"/><circle cx="466.4" cy="177.9" r="3.45"/><circle cx="496.0" cy="179.6" r="3.45"/><circle cx="421.9" cy="182.9" r="3.45"/><circle cx="421.9" cy="182.9" r="3.45"/><circle cx="421.9" cy="188.3" r="3.45"/><circle cx="428.6" cy="191.1" r="3.45"/><circle cx="408.2" cy="196.3" r="3.45"/><circle cx="422.8" cy="196.3" r="3.45"/><circle cx="426.9" cy="196.3" r="3.45"/><circle cx="437.8" cy="196.3" r="3.45"/><circle cx="445.2" cy="196.3" r="3.45"/><circle cx="445.2" cy="196.3" r="3.45"/><circle cx="449.0" cy="196.3" r="3.45"/><circle cx="449.0" cy="196.3" r="3.45"/><circle cx="452.3" cy="196.3" r="3.45"/><circle cx="448.6" cy="200.0" r="3.45"/><circle cx="426.5" cy="202.7" r="3.45"/><circle cx="436.5" cy="202.7" r="3.45"/><circle cx="411.5" cy="205.0" r="3.45"/><circle cx="419.8" cy="205.0" r="3.45"/><circle cx="406.1" cy="210.9" r="3.45"/><circle cx="406.1" cy="210.9" r="3.45"/><circle cx="408.2" cy="216.0" r="3.45"/><circle cx="418.6" cy="216.0" r="3.45"/><circle cx="418.6" cy="216.0" r="3.45"/><circle cx="445.2" cy="216.0" r="3.45"/><circle cx="448.2" cy="209.6" r="3.45"/><circle cx="451.5" cy="207.5" r="3.45"/><circle cx="454.0" cy="210.9" r="3.45"/><circle cx="454.0" cy="210.9" r="3.45"/><circle cx="444.0" cy="182.9" r="3.45"/><circle cx="449.0" cy="181.7" r="3.45"/><circle cx="454.0" cy="185.0" r="3.45"/><circle cx="454.0" cy="185.0" r="3.45"/><circle cx="464.3" cy="182.9" r="3.45"/><circle cx="466.8" cy="182.9" r="3.45"/><circle cx="466.8" cy="182.9" r="3.45"/><circle cx="476.0" cy="182.9" r="3.45"/><circle cx="495.2" cy="182.9" r="3.45"/><circle cx="494.8" cy="191.1" r="3.45"/><circle cx="494.8" cy="191.1" r="3.45"/><circle cx="496.0" cy="196.3" r="3.45"/><circle cx="496.0" cy="196.3" r="3.45"/><circle cx="464.8" cy="193.8" r="3.45"/><circle cx="461.0" cy="196.3" r="3.45"/><circle cx="468.5" cy="198.3" r="3.45"/><circle cx="478.1" cy="196.3" r="3.45"/><circle cx="478.1" cy="196.3" r="3.45"/><circle cx="472.7" cy="202.7" r="3.45"/><circle cx="472.7" cy="202.7" r="3.45"/><circle cx="464.8" cy="206.5" r="3.45"/><circle cx="494.8" cy="204.2" r="3.45"/><circle cx="494.3" cy="210.9" r="3.45"/><circle cx="494.3" cy="210.9" r="3.45"/><circle cx="494.3" cy="210.9" r="3.45"/><circle cx="473.5" cy="210.9" r="3.45"/><circle cx="478.9" cy="210.9" r="3.45"/><circle cx="460.6" cy="216.0" r="3.45"/><circle cx="502.7" cy="216.0" r="3.45"/><circle cx="507.2" cy="210.9" r="3.45"/><circle cx="511.8" cy="210.9" r="3.45"/><circle cx="511.8" cy="210.9" r="3.45"/><circle cx="511.0" cy="204.6" r="3.45"/><circle cx="399.8" cy="222.4" r="3.45"/><circle cx="404.0" cy="222.4" r="3.45"/><circle cx="407.3" cy="222.4" r="3.45"/><circle cx="414.0" cy="222.4" r="3.45"/><circle cx="414.0" cy="222.4" r="3.45"/><circle cx="427.3" cy="222.4" r="3.45"/><circle cx="427.3" cy="222.4" r="3.45"/><circle cx="431.1" cy="222.4" r="3.45"/><circle cx="421.9" cy="225.4" r="3.45"/><circle cx="407.3" cy="230.6" r="3.45"/><circle cx="419.0" cy="230.6" r="3.45"/><circle cx="419.0" cy="230.6" r="3.45"/><circle cx="422.3" cy="230.6" r="3.45"/><circle cx="437.3" cy="230.6" r="3.45"/><circle cx="441.5" cy="230.6" r="3.45"/><circle cx="445.7" cy="229.2" r="3.45"/><circle cx="445.7" cy="229.2" r="3.45"/><circle cx="446.5" cy="225.0" r="3.45"/><circle cx="454.8" cy="230.6" r="3.45"/><circle cx="455.7" cy="222.4" r="3.45"/><circle cx="449.0" cy="236.9" r="3.45"/><circle cx="447.8" cy="242.1" r="3.45"/><circle cx="447.8" cy="242.1" r="3.45"/><circle cx="399.8" cy="236.9" r="3.45"/><circle cx="400.7" cy="242.1" r="3.45"/><circle cx="411.5" cy="244.2" r="3.45"/><circle cx="415.2" cy="242.1" r="3.45"/><circle cx="415.2" cy="242.1" r="3.45"/><circle cx="420.7" cy="242.1" r="3.45"/><circle cx="420.7" cy="242.1" r="3.45"/><circle cx="426.5" cy="242.1" r="3.45"/><circle cx="426.5" cy="242.1" r="3.45"/><circle cx="428.2" cy="240.0" r="3.45"/><circle cx="403.2" cy="248.5" r="3.45"/><circle cx="426.9" cy="248.5" r="3.45"/><circle cx="419.0" cy="254.6" r="3.45"/><circle cx="407.3" cy="257.9" r="3.45"/><circle cx="405.2" cy="261.9" r="3.45"/><circle cx="405.2" cy="261.9" r="3.45"/><circle cx="455.7" cy="248.5" r="3.45"/><circle cx="478.1" cy="225.8" r="3.45"/><circle cx="477.7" cy="230.6" r="3.45"/><circle cx="488.9" cy="230.6" r="3.45"/><circle cx="484.3" cy="232.5" r="3.45"/><circle cx="485.2" cy="236.9" r="3.45"/><circle cx="506.4" cy="222.4" r="3.45"/><circle cx="460.6" cy="239.2" r="3.45"/><circle cx="460.6" cy="242.1" r="3.45"/><circle cx="471.8" cy="239.2" r="3.45"/><circle cx="479.6" cy="242.1" r="3.45"/><circle cx="508.1" cy="242.1" r="3.45"/><circle cx="508.1" cy="242.1" r="3.45"/><circle cx="511.8" cy="243.3" r="3.45"/><circle cx="494.8" cy="250.8" r="3.45"/><circle cx="458.5" cy="256.7" r="3.45"/><circle cx="512.7" cy="248.5" r="3.45"/><circle cx="404.8" cy="261.9" r="3.45"/><circle cx="404.0" cy="268.2" r="3.45"/><circle cx="419.8" cy="265.0" r="3.45"/><circle cx="427.0" cy="261.9" r="3.45"/><circle cx="427.0" cy="272.0" r="3.45"/><circle cx="420.7" cy="276.4" r="3.45"/><circle cx="420.7" cy="276.4" r="3.45"/><circle cx="414.8" cy="281.6" r="3.45"/><circle cx="414.8" cy="288.0" r="3.45"/><circle cx="444.8" cy="268.2" r="3.45"/><circle cx="454.0" cy="261.9" r="3.45"/><circle cx="470.3" cy="261.9" r="3.45"/><circle cx="477.3" cy="261.9" r="3.45"/><circle cx="482.3" cy="261.9" r="3.45"/><circle cx="476.0" cy="269.7" r="3.45"/><circle cx="458.7" cy="272.0" r="3.45"/><circle cx="451.5" cy="276.4" r="3.45"/><circle cx="458.7" cy="276.4" r="3.45"/><circle cx="466.8" cy="276.4" r="3.45"/><circle cx="450.3" cy="281.6" r="3.45"/><circle cx="459.0" cy="288.0" r="3.45"/><circle cx="459.0" cy="288.0" r="3.45"/><circle cx="498.7" cy="276.4" r="3.45"/><circle cx="509.0" cy="296.2" r="3.45"/><circle cx="513.2" cy="300.8" r="3.45"/><circle cx="405.7" cy="307.7" r="3.45"/><circle cx="426.5" cy="307.7" r="3.45"/><circle cx="436.0" cy="307.7" r="3.45"/><circle cx="436.0" cy="307.7" r="3.45"/><circle cx="444.3" cy="307.7" r="3.45"/><circle cx="467.8" cy="307.7" r="3.45"/><circle cx="495.3" cy="307.7" r="3.45"/><circle cx="495.7" cy="314.1" r="3.45"/><circle cx="449.0" cy="327.5" r="3.45"/><circle cx="430.7" cy="342.0" r="3.45"/><circle cx="502.3" cy="353.6" r="3.45"/><circle cx="446.5" cy="373.3" r="3.45"/><circle cx="518.8" cy="65.1" r="3.45"/><circle cx="609.7" cy="59.9" r="3.45"/><circle cx="586.3" cy="65.1" r="3.45"/><circle cx="571.7" cy="75.3" r="3.45"/><circle cx="520.2" cy="91.2" r="3.45"/><circle cx="563.0" cy="99.4" r="3.45"/><circle cx="601.3" cy="99.4" r="3.45"/><circle cx="521.7" cy="115.3" r="3.45"/><circle cx="524.3" cy="125.5" r="3.45"/><circle cx="551.8" cy="121.1" r="3.45"/><circle cx="538.3" cy="130.7" r="3.45"/><circle cx="542.2" cy="130.7" r="3.45"/><circle cx="543.3" cy="130.7" r="3.45"/><circle cx="549.3" cy="130.7" r="3.45"/><circle cx="564.7" cy="130.7" r="3.45"/><circle cx="574.7" cy="130.7" r="3.45"/><circle cx="587.5" cy="130.7" r="3.45"/><circle cx="516.3" cy="137.1" r="3.45"/><circle cx="527.7" cy="140.9" r="3.45"/><circle cx="527.7" cy="140.9" r="3.45"/><circle cx="527.7" cy="145.3" r="3.45"/><circle cx="527.2" cy="149.2" r="3.45"/><circle cx="521.0" cy="145.3" r="3.45"/><circle cx="579.7" cy="145.3" r="3.45"/><circle cx="583.3" cy="145.3" r="3.45"/><circle cx="608.0" cy="150.5" r="3.45"/><circle cx="568.8" cy="152.5" r="3.45"/><circle cx="569.2" cy="155.3" r="3.45"/><circle cx="516.7" cy="156.8" r="3.45"/><circle cx="523.8" cy="156.8" r="3.45"/><circle cx="528.0" cy="156.8" r="3.45"/><circle cx="528.0" cy="156.8" r="3.45"/><circle cx="532.7" cy="156.8" r="3.45"/><circle cx="543.8" cy="161.3" r="3.45"/><circle cx="521.3" cy="165.0" r="3.45"/><circle cx="539.3" cy="165.0" r="3.45"/><circle cx="550.5" cy="165.0" r="3.45"/><circle cx="531.8" cy="168.7" r="3.45"/><circle cx="515.5" cy="176.6" r="3.45"/><circle cx="515.5" cy="176.6" r="3.45"/><circle cx="524.3" cy="176.6" r="3.45"/><circle cx="528.0" cy="175.0" r="3.45"/><circle cx="528.0" cy="175.0" r="3.45"/><circle cx="547.7" cy="176.6" r="3.45"/><circle cx="547.7" cy="176.6" r="3.45"/><circle cx="563.0" cy="176.6" r="3.45"/><circle cx="516.3" cy="182.9" r="3.45"/><circle cx="527.7" cy="185.0" r="3.45"/><circle cx="527.7" cy="185.0" r="3.45"/><circle cx="527.7" cy="185.0" r="3.45"/><circle cx="532.7" cy="186.7" r="3.45"/><circle cx="567.7" cy="182.9" r="3.45"/><circle cx="588.8" cy="182.9" r="3.45"/><circle cx="588.8" cy="186.7" r="3.45"/><circle cx="544.2" cy="191.1" r="3.45"/><circle cx="518.8" cy="191.1" r="3.45"/><circle cx="568.8" cy="191.1" r="3.45"/><circle cx="517.7" cy="196.3" r="3.45"/><circle cx="517.7" cy="196.3" r="3.45"/><circle cx="528.0" cy="196.3" r="3.45"/><circle cx="568.0" cy="196.3" r="3.45"/><circle cx="555.5" cy="199.7" r="3.45"/><circle cx="562.5" cy="202.7" r="3.45"/><circle cx="562.5" cy="202.7" r="3.45"/><circle cx="524.3" cy="206.5" r="3.45"/><circle cx="536.3" cy="206.5" r="3.45"/><circle cx="517.7" cy="210.9" r="3.45"/><circle cx="527.7" cy="210.9" r="3.45"/><circle cx="527.7" cy="210.9" r="3.45"/><circle cx="531.3" cy="210.9" r="3.45"/><circle cx="548.0" cy="210.9" r="3.45"/><circle cx="550.0" cy="210.9" r="3.45"/><circle cx="556.7" cy="210.9" r="3.45"/><circle cx="559.7" cy="210.9" r="3.45"/><circle cx="561.7" cy="210.9" r="3.45"/><circle cx="567.7" cy="210.9" r="3.45"/><circle cx="520.5" cy="216.0" r="3.45"/><circle cx="532.2" cy="216.0" r="3.45"/><circle cx="528.0" cy="217.5" r="3.45"/><circle cx="516.7" cy="222.4" r="3.45"/><circle cx="516.7" cy="222.4" r="3.45"/><circle cx="524.3" cy="220.8" r="3.45"/><circle cx="547.7" cy="222.4" r="3.45"/><circle cx="555.5" cy="222.4" r="3.45"/><circle cx="553.8" cy="225.3" r="3.45"/><circle cx="564.7" cy="222.4" r="3.45"/><circle cx="540.0" cy="225.3" r="3.45"/><circle cx="524.7" cy="230.6" r="3.45"/><circle cx="528.0" cy="230.6" r="3.45"/><circle cx="531.7" cy="230.6" r="3.45"/><circle cx="570.5" cy="230.6" r="3.45"/><circle cx="515.5" cy="242.1" r="3.45"/><circle cx="531.8" cy="242.1" r="3.45"/><circle cx="550.5" cy="242.1" r="3.45"/><circle cx="554.7" cy="242.1" r="3.45"/><circle cx="515.0" cy="248.5" r="3.45"/><circle cx="539.2" cy="248.5" r="3.45"/><circle cx="586.3" cy="248.5" r="3.45"/><circle cx="528.0" cy="252.3" r="3.45"/><circle cx="551.3" cy="268.2" r="3.45"/><circle cx="551.3" cy="276.4" r="3.45"/><circle cx="551.3" cy="278.7" r="3.45"/><circle cx="516.0" cy="276.4" r="3.45"/><circle cx="524.7" cy="276.4" r="3.45"/><circle cx="570.8" cy="302.5" r="3.45"/><circle cx="655.2" cy="47.1" r="3.45"/><circle cx="652.8" cy="130.7" r="3.45"/><circle cx="356.7" cy="219.2" r="3.45"/><circle cx="361.7" cy="217.5" r="3.45"/><circle cx="340.8" cy="222.4" r="3.45"/><circle cx="340.8" cy="222.4" r="3.45"/><circle cx="377.5" cy="207.5" r="3.45"/><circle cx="385.0" cy="209.2" r="3.45"/><circle cx="373.3" cy="202.7" r="3.45"/><circle cx="383.3" cy="210.9" r="3.45"/></g>
<line x1="84.65" y1="409.45" x2="648.35" y2="288.95" stroke="#1f77b4" stroke-width="1.45" stroke-linecap="square"/>
<line x1="84.65" y1="372.45" x2="648.35" y2="285.10" stroke="#ff7f0e" stroke-width="1.45" stroke-linecap="square"/>
<line x1="84.65" y1="289.10" x2="648.35" y2="150.00" stroke="#2ca02c" stroke-width="1.45" stroke-linecap="square"/>
<line x1="84.65" y1="233.95" x2="648.35" y2="38.90" stroke="#d62728" stroke-width="1.45" stroke-linecap="square"/>
<line x1="84.65" y1="230.45" x2="648.35" y2="20.85" stroke="#9467bd" stroke-width="1.45" stroke-linecap="square"/>
<path d="M457.90 86.65 L463.25 97.35 L452.55 97.35 Z" fill="none" stroke="#ff0000" stroke-width="3.2" stroke-linejoin="round"/>
<path d="M56.00 1.50 H683.95 M56.00 429.00 H683.95 M56.50 1.50 V429.00 M683.45 1.50 V429.00" fill="none" stroke="#5c5c5c" stroke-width="1"/>
<g stroke="#5c5c5c" stroke-width="0.9"><line x1="84.99" y1="429.00" x2="84.99" y2="430.70"/><line x1="116.22" y1="429.00" x2="116.22" y2="430.70"/><line x1="138.38" y1="429.00" x2="138.38" y2="430.70"/><line x1="155.56" y1="429.00" x2="155.56" y2="430.70"/><line x1="169.61" y1="429.00" x2="169.61" y2="430.70"/><line x1="181.48" y1="429.00" x2="181.48" y2="430.70"/><line x1="191.76" y1="429.00" x2="191.76" y2="430.70"/><line x1="200.83" y1="429.00" x2="200.83" y2="430.70"/><line x1="208.95" y1="429.00" x2="208.95" y2="432.00"/><line x1="262.34" y1="429.00" x2="262.34" y2="430.70"/><line x1="293.57" y1="429.00" x2="293.57" y2="430.70"/><line x1="315.73" y1="429.00" x2="315.73" y2="430.70"/><line x1="332.91" y1="429.00" x2="332.91" y2="430.70"/><line x1="346.96" y1="429.00" x2="346.96" y2="430.70"/><line x1="358.83" y1="429.00" x2="358.83" y2="430.70"/><line x1="369.11" y1="429.00" x2="369.11" y2="430.70"/><line x1="378.18" y1="429.00" x2="378.18" y2="430.70"/><line x1="386.30" y1="429.00" x2="386.30" y2="432.00"/><line x1="439.69" y1="429.00" x2="439.69" y2="430.70"/><line x1="470.92" y1="429.00" x2="470.92" y2="430.70"/><line x1="493.08" y1="429.00" x2="493.08" y2="430.70"/><line x1="510.26" y1="429.00" x2="510.26" y2="430.70"/><line x1="524.31" y1="429.00" x2="524.31" y2="430.70"/><line x1="536.18" y1="429.00" x2="536.18" y2="430.70"/><line x1="546.46" y1="429.00" x2="546.46" y2="430.70"/><line x1="555.53" y1="429.00" x2="555.53" y2="430.70"/><line x1="563.65" y1="429.00" x2="563.65" y2="432.00"/><line x1="617.04" y1="429.00" x2="617.04" y2="430.70"/><line x1="648.27" y1="429.00" x2="648.27" y2="430.70"/><line x1="670.43" y1="429.00" x2="670.43" y2="430.70"/><line x1="54.80" y1="419.14" x2="56.50" y2="419.14"/><line x1="54.80" y1="407.59" x2="56.50" y2="407.59"/><line x1="54.80" y1="399.40" x2="56.50" y2="399.40"/><line x1="54.80" y1="393.04" x2="56.50" y2="393.04"/><line x1="54.80" y1="387.85" x2="56.50" y2="387.85"/><line x1="54.80" y1="383.46" x2="56.50" y2="383.46"/><line x1="54.80" y1="379.66" x2="56.50" y2="379.66"/><line x1="54.80" y1="376.30" x2="56.50" y2="376.30"/><line x1="53.50" y1="373.30" x2="56.50" y2="373.30"/><line x1="54.80" y1="353.56" x2="56.50" y2="353.56"/><line x1="54.80" y1="342.01" x2="56.50" y2="342.01"/><line x1="54.80" y1="333.82" x2="56.50" y2="333.82"/><line x1="54.80" y1="327.46" x2="56.50" y2="327.46"/><line x1="54.80" y1="322.27" x2="56.50" y2="322.27"/><line x1="54.80" y1="317.88" x2="56.50" y2="317.88"/><line x1="54.80" y1="314.08" x2="56.50" y2="314.08"/><line x1="54.80" y1="310.72" x2="56.50" y2="310.72"/><line x1="53.50" y1="307.72" x2="56.50" y2="307.72"/><line x1="54.80" y1="287.98" x2="56.50" y2="287.98"/><line x1="54.80" y1="276.43" x2="56.50" y2="276.43"/><line x1="54.80" y1="268.24" x2="56.50" y2="268.24"/><line x1="54.80" y1="261.88" x2="56.50" y2="261.88"/><line x1="54.80" y1="256.69" x2="56.50" y2="256.69"/><line x1="54.80" y1="252.30" x2="56.50" y2="252.30"/><line x1="54.80" y1="248.50" x2="56.50" y2="248.50"/><line x1="54.80" y1="245.14" x2="56.50" y2="245.14"/><line x1="53.50" y1="242.14" x2="56.50" y2="242.14"/><line x1="54.80" y1="222.40" x2="56.50" y2="222.40"/><line x1="54.80" y1="210.85" x2="56.50" y2="210.85"/><line x1="54.80" y1="202.66" x2="56.50" y2="202.66"/><line x1="54.80" y1="196.30" x2="56.50" y2="196.30"/><line x1="54.80" y1="191.11" x2="56.50" y2="191.11"/><line x1="54.80" y1="186.72" x2="56.50" y2="186.72"/><line x1="54.80" y1="182.92" x2="56.50" y2="182.92"/><line x1="54.80" y1="179.56" x2="56.50" y2="179.56"/><line x1="53.50" y1="176.56" x2="56.50" y2="176.56"/><line x1="54.80" y1="156.82" x2="56.50" y2="156.82"/><line x1="54.80" y1="145.27" x2="56.50" y2="145.27"/><line x1="54.80" y1="137.08" x2="56.50" y2="137.08"/><line x1="54.80" y1="130.72" x2="56.50" y2="130.72"/><line x1="54.80" y1="125.53" x2="56.50" y2="125.53"/><line x1="54.80" y1="121.14" x2="56.50" y2="121.14"/><line x1="54.80" y1="117.34" x2="56.50" y2="117.34"/><line x1="54.80" y1="113.98" x2="56.50" y2="113.98"/><line x1="53.50" y1="110.98" x2="56.50" y2="110.98"/><line x1="54.80" y1="91.24" x2="56.50" y2="91.24"/><line x1="54.80" y1="79.69" x2="56.50" y2="79.69"/><line x1="54.80" y1="71.50" x2="56.50" y2="71.50"/><line x1="54.80" y1="65.14" x2="56.50" y2="65.14"/><line x1="54.80" y1="59.95" x2="56.50" y2="59.95"/><line x1="54.80" y1="55.56" x2="56.50" y2="55.56"/><line x1="54.80" y1="51.76" x2="56.50" y2="51.76"/><line x1="54.80" y1="48.40" x2="56.50" y2="48.40"/><line x1="53.50" y1="45.40" x2="56.50" y2="45.40"/><line x1="54.80" y1="25.66" x2="56.50" y2="25.66"/><line x1="54.80" y1="14.11" x2="56.50" y2="14.11"/><line x1="54.80" y1="5.92" x2="56.50" y2="5.92"/></g>
<text x="52.50" y="382.60" font-size="17.8" fill="#5e5e5e" text-anchor="end">10<tspan dx="0.0" dy="-12.6" font-size="12.4">1</tspan></text>
<text x="50.80" y="317.02" font-size="17.8" fill="#5e5e5e" text-anchor="end">10<tspan dx="0.0" dy="-12.6" font-size="12.4">2</tspan></text>
<text x="50.80" y="251.44" font-size="17.8" fill="#5e5e5e" text-anchor="end">10<tspan dx="0.0" dy="-12.6" font-size="12.4">3</tspan></text>
<text x="50.80" y="185.86" font-size="17.8" fill="#5e5e5e" text-anchor="end">10<tspan dx="0.0" dy="-12.6" font-size="12.4">4</tspan></text>
<text x="50.80" y="120.28" font-size="17.8" fill="#5e5e5e" text-anchor="end">10<tspan dx="0.0" dy="-12.6" font-size="12.4">5</tspan></text>
<text x="50.80" y="54.70" font-size="17.8" fill="#5e5e5e" text-anchor="end">10<tspan dx="0.0" dy="-12.6" font-size="12.4">6</tspan></text>
<text x="209.35" y="453.40" font-size="17.8" fill="#5e5e5e" text-anchor="middle">10<tspan dx="0.0" dy="-12.6" font-size="12.4">−1</tspan></text>
<text x="386.70" y="453.40" font-size="17.8" fill="#5e5e5e" text-anchor="middle">10<tspan dx="0.0" dy="-12.6" font-size="12.4">0</tspan></text>
<text x="565.25" y="453.40" font-size="17.8" fill="#5e5e5e" text-anchor="middle">10<tspan dx="-0.8" dy="-12.6" font-size="12.4">1</tspan></text>
<text x="369.7" y="474.2" font-size="20" fill="#5e5e5e" text-anchor="middle">Basin area (km²)</text>
<text transform="translate(15.6 320.7) rotate(-90)" font-size="20" fill="#5e5e5e" letter-spacing="-0.1">Debris-flow volume (m<tspan dx="1.3">³</tspan><tspan dx="1.4">)</tspan></text>
<text x="648.0" y="18.5" font-size="13.7" fill="#5e5e5e" text-anchor="end">99%</text>
<text x="648.0" y="59.8" font-size="13.7" fill="#5e5e5e" text-anchor="end">98%</text>
<text x="648.0" y="145.6" font-size="13.7" fill="#5e5e5e" text-anchor="end">50%</text>
<text x="84.8" y="368.9" font-size="13.7" fill="#5e5e5e" text-anchor="middle">2%</text>
<text x="85.2" y="406.2" font-size="13.7" fill="#5e5e5e" text-anchor="middle">1%</text>
<rect x="63.3" y="8.3" width="280.6" height="115.5" rx="2.5" ry="2.5" fill="#fff" fill-opacity="0.8" stroke="#cccccc" stroke-opacity="0.8" stroke-width="1"/>
<circle cx="83.2" cy="28.4" r="3.45" fill="#7a7a7a" fill-opacity="0.5" stroke="#7a7a7a" stroke-opacity="0.5" stroke-width="0.7"/>
<path d="M82.85 50.65 L88.20 61.35 L77.50 61.35 Z" fill="none" stroke="#ff0000" stroke-width="3.2" stroke-linejoin="round"/>
<rect x="77.85" y="71.55" width="10.30" height="10.30" fill="none" stroke="#0000ff" stroke-width="3.2" stroke-linejoin="round"/>
<circle cx="82.90" cy="105.60" r="5.25" fill="none" stroke="#008000" stroke-width="3.2"/>
<text x="108.2" y="23.8" font-size="14.2" fill="#1a1a1a">Debris-flow volumes</text>
<text x="108.2" y="39.4" font-size="14.2" fill="#1a1a1a">NE Italy dataset (Marchi et al., 2019)</text>
<text x="108.2" y="59.3" font-size="14.2" fill="#1a1a1a">Rotian all deposits</text>
<text x="108.2" y="79.9" font-size="14.2" fill="#1a1a1a">Rotian alluvial fan deposits</text>
<text x="108.2" y="100.5" font-size="14.2" fill="#1a1a1a">Rotian excluding the channel reach</text>
<text x="108.2" y="115.7" font-size="14.2" fill="#1a1a1a">with check-dams failure</text>
</svg></body></html>
